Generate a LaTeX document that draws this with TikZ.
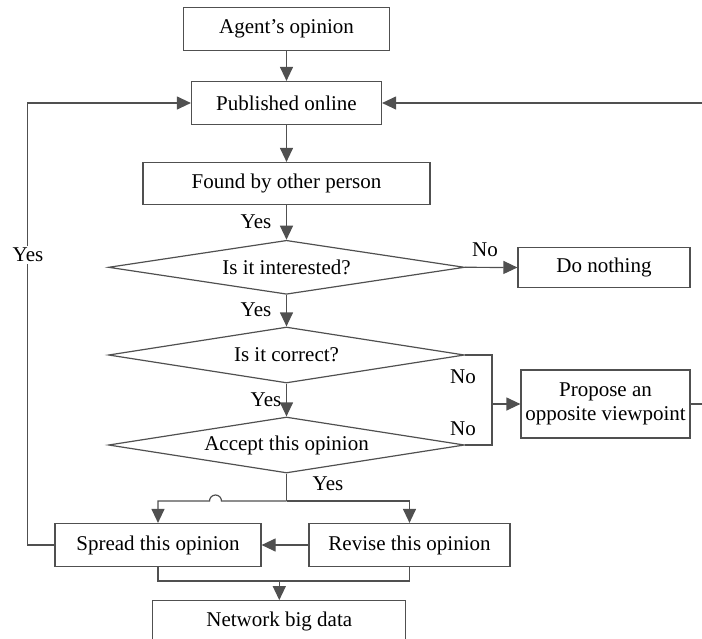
\documentclass[tikz,border=0pt]{standalone}
\usepackage{fontspec}
\setmainfont{Liberation Serif}
\usetikzlibrary{shapes.geometric,arrows.meta}
\definecolor{lc}{RGB}{80,80,80}
\begin{document}
\begin{tikzpicture}[x=1pt,y=-1pt,
  line/.style={draw=lc, line width=1.2pt},
  arr/.style={line, -{Triangle[length=14pt,width=13pt]}},
  txt/.style={font=\fontsize{21}{24}\selectfont},
  box/.style={txt, draw=lc, line width=1.2pt, rectangle, inner sep=0pt, align=center},
  dia/.style={txt, draw=lc, line width=1.2pt, diamond, shape aspect=6.5, inner sep=0pt, minimum width=356pt},
  lab/.style={txt, inner sep=0pt}]
\useasboundingbox (0,0) rectangle (702,638);
\clip (0,0) rectangle (702,638);
% nodes
\node[box, minimum width=206pt, minimum height=43pt] (agt) at (286.5,29) {Agent's opinion};
\node[box, minimum width=190pt, minimum height=43pt] (pub) at (286.5,103) {Published online};
\node[box, minimum width=287pt, minimum height=42pt] (fnd) at (286.5,183.5) {Found by other person};
\node[dia, minimum height=54pt] (d1) at (286.5,267.3) {Is it interested?};
\node[box, minimum width=172pt, minimum height=40pt] (non) at (604,267.5) {Do nothing};
\node[dia, minimum height=56pt] (d2) at (286.5,355) {Is it correct?};
\node[dia, minimum height=56pt] (d3) at (286.5,445) {Accept this opinion};
\node[box, minimum width=169pt, minimum height=68pt] (pro) at (605.5,404) {Propose an\\opposite viewpoint};
\node[box, minimum width=206pt, minimum height=43pt] (spr) at (158,545) {Spread this opinion};
\node[box, minimum width=201pt, minimum height=43pt] (rev) at (409.5,545) {Revise this opinion};
\node[box, minimum width=253pt, minimum height=42pt] (net) at (279.3,621.7) {Network big data};
% coordinates
\coordinate (k) at (492,404);
\coordinate (j1) at (286.5,501);
\coordinate (j2) at (279.3,581);
\coordinate (bumpR) at (221.5,501);
% connectors
\draw[arr] (agt) -- (pub);
\draw[arr] (pub) -- (fnd);
\draw[arr] (fnd) -- (d1);
\draw[arr] (d1.east) -- (non.west);
\draw[arr] (d1.south) -- (d2.north);
\draw[arr] (d2.south) -- (d3.north);
\draw[line] (d2.east) -| (k) |- (d3.east);
\draw[arr] (k) -- (pro.west);
\draw[arr] (pro.east) -- (730,404) -- (730,103) -- (pub.east);
\draw[line] (d3.south) -- (j1);
\draw[arr] (j1) -- (bumpR) arc[start angle=0, end angle=180, radius=6pt] -- (spr.north |- j1) -- (spr.north);
\draw[arr] (j1) -- (rev.north |- j1) -- (rev.north);
\draw[arr] (rev.west) -- (spr.east);
\draw[arr] (spr.west) -- ++(-27,0) |- (pub.west);
\draw[line] (spr.south) |- (rev.south |- j2) -- (rev.south);
\draw[arr] (j2) -- (net.north);
% labels
\node[lab] (y1) at (256,222) {Yes};
\node[lab] (y2) at (256,310) {Yes};
\node[lab] (y3) at (266,400) {Yes};
\node[lab] (y4) at (328,484) {Yes};
\node[lab, fill=white, inner sep=2pt] (y5) at (28,255) {Yes};
\node[lab] (n1) at (485,250) {No};
\node[lab] (n2) at (463,377) {No};
\node[lab] (n3) at (463,429) {No};
\end{tikzpicture}
\end{document}
